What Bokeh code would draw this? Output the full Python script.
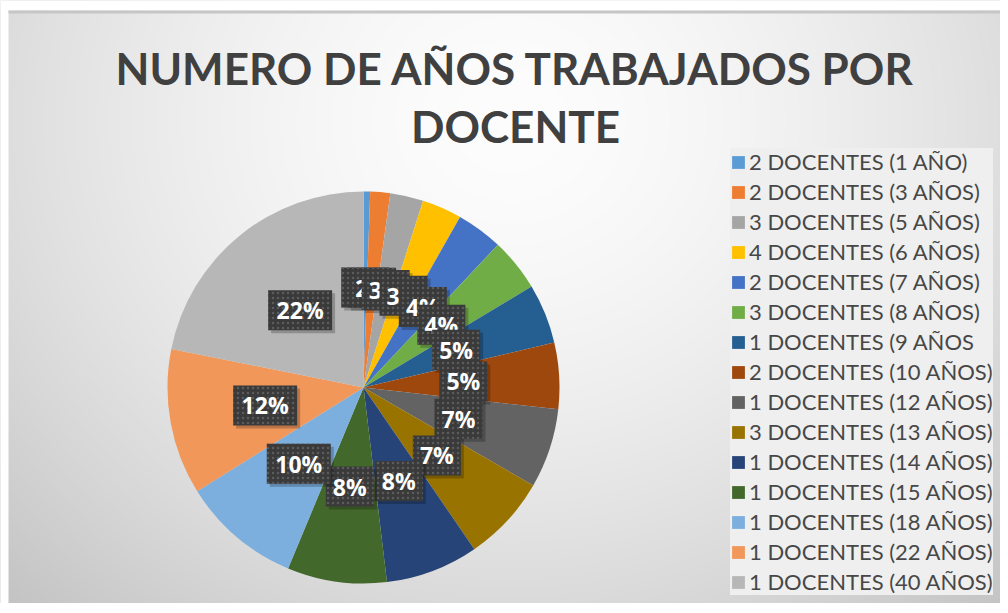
import math
import numpy as np
from bokeh.plotting import figure
from bokeh.models import Range1d, Legend, LegendItem, ColumnDataSource
from bokeh.core.properties import value
from bokeh.embed import file_html
from bokeh.resources import INLINE

# ---------------- data ----------------
legend_labels = [
    "2 DOCENTES (1 AÑO)", "2 DOCENTES (3 AÑOS)", "3 DOCENTES (5 AÑOS)",
    "4 DOCENTES (6 AÑOS)", "2 DOCENTES (7 AÑOS)", "3 DOCENTES (8 AÑOS)",
    "1 DOCENTES (9 AÑOS", "2 DOCENTES (10 AÑOS)", "1 DOCENTES (12 AÑOS)",
    "3 DOCENTES (13 AÑOS)", "1 DOCENTES (14 AÑOS)", "1 DOCENTES (15 AÑOS)",
    "1 DOCENTES (18 AÑOS)", "1 DOCENTES (22 AÑOS)", "1 DOCENTES (40 AÑOS)",
]
slice_values = [1, 3, 5, 6, 7, 8, 9, 10, 12, 13, 14, 15, 18, 22, 40]
slice_colors = [
    "#5B9BD5", "#ED7D31", "#A5A5A5", "#FFC000", "#4472C4", "#70AD47",
    "#255E91", "#9E480E", "#636363", "#997300", "#264478", "#43682B",
    "#7CAFDD", "#F1975A", "#B7B7B7",
]
title_lines = ["NUMERO DE AÑOS TRABAJADOS POR", "DOCENTE"]

# ---------------- layout ----------------
W, H = 1000, 603
CX, CY, R = 363, 216, 196
LABEL_R = 100

p = figure(width=W, height=H, x_range=Range1d(0, W), y_range=Range1d(0, H),
           output_backend="svg", toolbar_location=None,
           x_axis_type=None, y_axis_type=None, min_border=0,
           outline_line_color=None)
p.grid.visible = False
p.background_fill_color = "#dddddd"
p.border_fill_color = "#dddddd"

# radial gradient background
ny, nx = 302, 500
jj, ii = np.mgrid[0:ny, 0:nx]
X = (ii + 0.5) / nx * W
Ytop = H - (jj + 0.5) / ny * H
d = np.sqrt(((X - 510) / 620) ** 2 + ((Ytop - 120) / 560) ** 2)
g = np.clip(253 - 44 * d ** 1.6, 185, 255).astype(np.uint8)
img = np.empty((ny, nx), dtype=np.uint32)
view = img.view(dtype=np.uint8).reshape((ny, nx, 4))
view[..., 0] = g
view[..., 1] = g
view[..., 2] = g
view[..., 3] = 255
p.image_rgba(image=[img], x=0, y=0, dw=W, dh=H)

# white outer edge of the original picture and its frame line
p.quad(left=[0, 0], right=[W, 8], bottom=[H - 10, 0], top=[H, H],
       fill_color="white", line_color=None)
p.quad(left=[8], right=[W], bottom=[H - 13], top=[H - 10],
       fill_color="#c6c6c6", line_color=None)

# title
for k, line in enumerate(title_lines):
    p.text(x=[515], y=[536 - 58 * k], text=[line],
           text_font=value("Lato"), text_font_style="bold",
           text_font_size="44px", text_color="#404040",
           text_align="center", text_baseline="middle")

# pie
total = float(sum(slice_values))
cum = np.concatenate([[0], np.cumsum(slice_values)])
starts = [math.pi / 2 - 2 * math.pi * cum[i] / total for i in range(len(slice_values))]
ends = [math.pi / 2 - 2 * math.pi * cum[i + 1] / total for i in range(len(slice_values))]
pct = ["%d%%" % int(round(v / total * 100)) for v in slice_values]

src = ColumnDataSource(dict(start=starts, end=ends, color=slice_colors,
                            label=legend_labels, value=slice_values, pct=pct))
wr = p.wedge(x=CX, y=CY, radius=R, start_angle="start", end_angle="end",
             direction="clock", fill_color="color", line_color=None, source=src)

# data labels (drawn one by one so later boxes overlap earlier ones)
for i in range(len(slice_values)):
    mid = (starts[i] + ends[i]) / 2
    lx = CX + LABEL_R * math.cos(mid)
    ly = CY + LABEL_R * math.sin(mid)
    bw = 16 * len(pct[i]) + 16
    lsrc = ColumnDataSource(dict(x=[lx], y=[ly], t=[pct[i]]))
    sh = ColumnDataSource(dict(x=[lx + 3], y=[ly - 3]))
    p.rect(x="x", y="y", width=bw, height=40, fill_color="black", fill_alpha=0.22,
           line_color=None, source=sh)
    p.rect(x="x", y="y", width=bw, height=40, fill_color="#3a3a3a",
           hatch_pattern="dot", hatch_color="#5c5c5c", hatch_scale=5,
           hatch_weight=1.2, line_color=None, source=lsrc)
    p.text(x="x", y="y", text="t", source=lsrc, text_color="white",
           text_font=value("Open Sans"), text_font_style="bold",
           text_font_size="23px", text_align="center", text_baseline="middle")

# legend
items = [LegendItem(label=legend_labels[i], renderers=[wr], index=i)
         for i in range(len(legend_labels))]
legend = Legend(items=items, location=(730, 8))
legend.label_text_font = "Lato"
legend.label_text_font_size = "22px"
legend.label_text_color = "#474747"
legend.glyph_width = 16
legend.glyph_height = 16
legend.label_height = 26
legend.spacing = 3
legend.padding = 4
legend.margin = 0
legend.label_standoff = 3
legend.background_fill_color = "#efefef"
legend.background_fill_alpha = 1
legend.border_line_color = None
p.add_layout(legend)

open("out.html", "w").write(file_html(p, INLINE))
